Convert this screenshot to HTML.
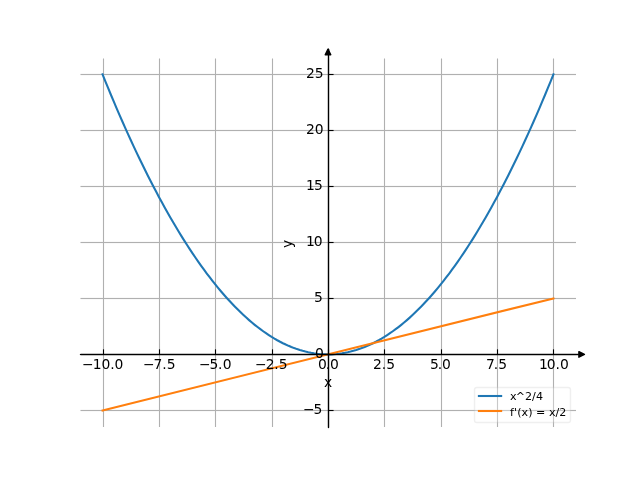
<!DOCTYPE html>
<html lang="en"><head><meta charset="utf-8"><title>Plot of x^2/4 and its derivative</title>
<style>html,body{margin:0;padding:0;background:#fff;overflow:hidden}svg{display:block}text{font-family:"DejaVu Sans","Liberation Sans",sans-serif;fill:#000}</style>
</head><body>
<svg width="640" height="480" viewBox="0 0 640 480">
<rect x="0" y="0" width="640" height="480" fill="#ffffff"/>
<g stroke="#b0b0b0" stroke-width="1.111" fill="none">
<line x1="103.5" y1="58.5" x2="103.5" y2="427"/>
<line x1="159.5" y1="58.5" x2="159.5" y2="427"/>
<line x1="215.5" y1="58.5" x2="215.5" y2="427"/>
<line x1="272.5" y1="58.5" x2="272.5" y2="427"/>
<line x1="328.5" y1="58.5" x2="328.5" y2="427"/>
<line x1="384.5" y1="58.5" x2="384.5" y2="427"/>
<line x1="441.5" y1="58.5" x2="441.5" y2="427"/>
<line x1="497.5" y1="58.5" x2="497.5" y2="427"/>
<line x1="553.5" y1="58.5" x2="553.5" y2="427"/>
</g>
<g stroke="#b0b0b0" stroke-width="3" opacity="0.063" fill="none">
<line x1="80.5" y1="74.5" x2="576" y2="74.5"/>
<line x1="80.5" y1="130.5" x2="576" y2="130.5"/>
<line x1="80.5" y1="186.5" x2="576" y2="186.5"/>
<line x1="80.5" y1="242.5" x2="576" y2="242.5"/>
<line x1="80.5" y1="298.5" x2="576" y2="298.5"/>
<line x1="80.5" y1="354.5" x2="576" y2="354.5"/>
<line x1="80.5" y1="410.5" x2="576" y2="410.5"/>
</g>
<g stroke="#b0b0b0" stroke-width="1" fill="none">
<line x1="80.5" y1="74.5" x2="576" y2="74.5"/>
<line x1="80.5" y1="130.5" x2="576" y2="130.5"/>
<line x1="80.5" y1="186.5" x2="576" y2="186.5"/>
<line x1="80.5" y1="242.5" x2="576" y2="242.5"/>
<line x1="80.5" y1="298.5" x2="576" y2="298.5"/>
<line x1="80.5" y1="354.5" x2="576" y2="354.5"/>
<line x1="80.5" y1="410.5" x2="576" y2="410.5"/>
</g>
<polyline points="102.545,74.4 105.364,81.356 108.182,88.225 111,95.006 113.818,101.7 116.636,108.306 119.455,114.825 122.273,121.256 125.091,127.6 127.909,133.856 130.727,140.025 133.545,146.106 136.364,152.1 139.182,158.006 142,163.825 144.818,169.556 147.636,175.2 150.455,180.756 153.273,186.225 156.091,191.606 158.909,196.9 161.727,202.106 164.545,207.225 167.364,212.256 170.182,217.2 173,222.056 175.818,226.825 178.636,231.506 181.455,236.1 184.273,240.606 187.091,245.025 189.909,249.356 192.727,253.6 195.545,257.756 198.364,261.825 201.182,265.806 204,269.7 206.818,273.506 209.636,277.225 212.455,280.856 215.273,284.4 218.091,287.856 220.909,291.225 223.727,294.506 226.545,297.7 229.364,300.806 232.182,303.825 235,306.756 237.818,309.6 240.636,312.356 243.455,315.025 246.273,317.606 249.091,320.1 251.909,322.506 254.727,324.825 257.545,327.056 260.364,329.2 263.182,331.256 266,333.225 268.818,335.106 271.636,336.9 274.455,338.606 277.273,340.225 280.091,341.756 282.909,343.2 285.727,344.556 288.545,345.825 291.364,347.006 294.182,348.1 297,349.106 299.818,350.025 302.636,350.856 305.455,351.6 308.273,352.256 311.091,352.825 313.909,353.306 316.727,353.7 319.545,354.006 322.364,354.225 325.182,354.356 328,354.4 330.818,354.356 333.636,354.225 336.455,354.006 339.273,353.7 342.091,353.306 344.909,352.825 347.727,352.256 350.545,351.6 353.364,350.856 356.182,350.025 359,349.106 361.818,348.1 364.636,347.006 367.455,345.825 370.273,344.556 373.091,343.2 375.909,341.756 378.727,340.225 381.545,338.606 384.364,336.9 387.182,335.106 390,333.225 392.818,331.256 395.636,329.2 398.455,327.056 401.273,324.825 404.091,322.506 406.909,320.1 409.727,317.606 412.545,315.025 415.364,312.356 418.182,309.6 421,306.756 423.818,303.825 426.636,300.806 429.455,297.7 432.273,294.506 435.091,291.225 437.909,287.856 440.727,284.4 443.545,280.856 446.364,277.225 449.182,273.506 452,269.7 454.818,265.806 457.636,261.825 460.455,257.756 463.273,253.6 466.091,249.356 468.909,245.025 471.727,240.606 474.545,236.1 477.364,231.506 480.182,226.825 483,222.056 485.818,217.2 488.636,212.256 491.455,207.225 494.273,202.106 497.091,196.9 499.909,191.606 502.727,186.225 505.545,180.756 508.364,175.2 511.182,169.556 514,163.825 516.818,158.006 519.636,152.1 522.455,146.106 525.273,140.025 528.091,133.856 530.909,127.6 533.727,121.256 536.545,114.825 539.364,108.306 542.182,101.7 545,95.006 547.818,88.225 550.636,81.356 553.455,74.4" fill="none" stroke="#1f77b4" stroke-width="2.083" stroke-linecap="square" stroke-linejoin="round"/>
<line x1="102.545" y1="410.4" x2="553.455" y2="298.4" stroke="#ff7f0e" stroke-width="2.083" stroke-linecap="square"/>
<g stroke="#000" stroke-width="1.111" fill="none">
<line x1="103.5" y1="354.4" x2="103.5" y2="349.34"/>
<line x1="159.5" y1="354.4" x2="159.5" y2="349.34"/>
<line x1="215.5" y1="354.4" x2="215.5" y2="349.34"/>
<line x1="272.5" y1="354.4" x2="272.5" y2="349.34"/>
<line x1="328.5" y1="354.4" x2="328.5" y2="349.34"/>
<line x1="384.5" y1="354.4" x2="384.5" y2="349.34"/>
<line x1="441.5" y1="354.4" x2="441.5" y2="349.34"/>
<line x1="497.5" y1="354.4" x2="497.5" y2="349.34"/>
<line x1="553.5" y1="354.4" x2="553.5" y2="349.34"/>
</g>
<g stroke="#000" stroke-width="3" opacity="0.055" fill="none">
<line x1="329" y1="74.5" x2="333.55" y2="74.5"/>
<line x1="329" y1="130.5" x2="333.55" y2="130.5"/>
<line x1="329" y1="186.5" x2="333.55" y2="186.5"/>
<line x1="329" y1="242.5" x2="333.55" y2="242.5"/>
<line x1="329" y1="298.5" x2="333.55" y2="298.5"/>
<line x1="329" y1="354.5" x2="333.55" y2="354.5"/>
<line x1="329" y1="410.5" x2="333.55" y2="410.5"/>
</g>
<g stroke="#000" stroke-width="1" fill="none">
<line x1="328" y1="74.5" x2="333.55" y2="74.5"/>
<line x1="328" y1="130.5" x2="333.55" y2="130.5"/>
<line x1="328" y1="186.5" x2="333.55" y2="186.5"/>
<line x1="328" y1="242.5" x2="333.55" y2="242.5"/>
<line x1="328" y1="298.5" x2="333.55" y2="298.5"/>
<line x1="328" y1="354.5" x2="333.55" y2="354.5"/>
<line x1="328" y1="410.5" x2="333.55" y2="410.5"/>
</g>
<line x1="80.5" y1="354.5" x2="578.892" y2="354.5" stroke="#000" stroke-width="3" opacity="0.212"/>
<line x1="79.9" y1="354.5" x2="578.892" y2="354.5" stroke="#000" stroke-width="1"/>
<g stroke="#000" stroke-width="1.389" stroke-linecap="round" stroke-linejoin="round">
<path d="M578.892 351.622 L584.447 354.4 L578.892 357.178 Z" fill="#000"/>
<line x1="328.5" y1="427.5" x2="328.5" y2="49.153"/>
<path d="M325.222 54.708 L328 49.153 L330.778 54.708 Z" fill="#000"/>
</g>
<g font-size="13.889px" text-anchor="start">
<text x="82.03 92.79 101.53 110.25 114.56" y="368.569">−10.0</text>
<text x="143.01 153.53 162.26 166.82" y="368.569">−7.5</text>
<text x="198.92 209.55 218.12 222.78" y="368.569">−5.0</text>
<text x="254.93 265.85 274.23 278.68" y="368.569">−2.5</text>
<text x="317.96 325.77 329.95" y="368.569">0.0</text>
<text x="372.93 381.85 386.36" y="368.569">2.5</text>
<text x="429.94 437.75 441.92" y="368.569">5.0</text>
<text x="486.05 493.86 498.29" y="368.569">7.5</text>
<text x="539.1 546.87 555.4 560.01" y="368.569">10.0</text>
<text x="302.93 313.6" y="413.732">−5</text>
<text x="305.88 313.8" y="245.732">10</text>
<text x="305.88 314.05" y="189.732">15</text>
<text x="306.02 314.74" y="133.732">20</text>
<text x="306.02 314.74" y="77.732">25</text>
<text text-anchor="end" x="323.739" y="357.732">0</text>
<text text-anchor="end" x="322.739" y="301.732">5</text>
<text text-anchor="middle" x="328" y="386.765">x</text>
<text text-anchor="middle" x="291.581" y="243.9" transform="rotate(-90 291.581 243.9)">y</text>
</g>
<rect x="474.5" y="387.5" width="96" height="35" rx="2.222" ry="2.222" fill="#ffffff" stroke="#cccccc" stroke-width="1.389" opacity="0.3"/>
<line x1="478.915" y1="396" x2="501.137" y2="396" stroke="#1f77b4" stroke-width="2.083" stroke-linecap="square"/>
<line x1="478.915" y1="411" x2="501.137" y2="411" stroke="#ff7f0e" stroke-width="2.083" stroke-linecap="square"/>
<g font-size="11.111px" text-anchor="start">
<text x="510.03 515.64 524.99 532.12 535.92" y="399.58">x^2/4</text>
<text x="510.03 513.93 517.23 521.57 528.14 532.48 536.01 545.32 549.1 555.42 559.17" y="415.889">f'(x) = x/2</text>
</g>
</svg>
</body></html>
